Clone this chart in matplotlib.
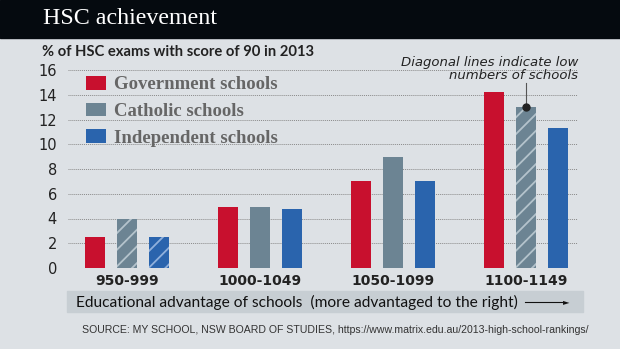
import numpy as np
import matplotlib.pyplot as plt
from matplotlib.patches import Rectangle, Patch

# data ------------------------------------------------------------
groups = ['950-999', '1000-1049', '1050-1099', '1100-1149']
series = ['Government schools', 'Catholic schools', 'Independent schools']
gov = [2.5, 4.9, 7.0, 14.2]
cath = [4.0, 4.95, 9.0, 13.0]
indep = [2.5, 4.8, 7.0, 11.3]
# low numbers of schools (hatched)
low_n = {'Catholic schools': [0, 3], 'Independent schools': [0]}
yticks = [0, 2, 4, 6, 8, 10, 12, 14, 16]
# ----------------------------------------------------------------

colors = ['#c8102e', '#6c8493', '#2a64ad']
hatch_cols = ['#e07080', '#b4c3cc', '#8fb0dc']
bg = '#dde1e5'
plt.rcParams['hatch.linewidth'] = 1.3

fig = plt.figure(figsize=(6.2, 3.49), dpi=100, facecolor=bg)
W, H = 620, 349
fig.patches.append(Rectangle((0, 1 - 38 / H), 1, 38 / H, transform=fig.transFigure,
                             color='#050a0f', zorder=0))
fig.text(43 / W, 1 - 19 / H, 'HSC achievement', color='white', fontsize=17.3,
         family='Liberation Serif', va='center')
fig.text(42 / W, 1 - 52 / H, '% of HSC exams with score of 90 in 2013', fontsize=10.6,
         fontweight='bold', color='#222222', va='center', family='Lato')

ax = fig.add_axes([68 / W, 1 - 268 / H, 510 / W, 198 / H])
ax.set_facecolor(bg)
x = np.arange(len(groups))
off = 0.24
w = 0.15
for i, (name, vals) in enumerate(zip(series, [gov, cath, indep])):
    bars = ax.bar(x + (i - 1) * off, vals, w, color=colors[i], zorder=3)
    for j in low_n.get(name, []):
        bars[j].set_hatch('//')
        bars[j].set_edgecolor(hatch_cols[i])
        bars[j].set_linewidth(0)

ax.set_xlim(-0.444, 3.39)
ax.set_ylim(0, 16)
ax.set_yticks(yticks)
ax.set_xticks(x)
ax.set_xticklabels(groups, fontsize=10, fontweight='bold', color='#222222')
ax.tick_params(length=0, pad=4)
ax.tick_params(axis='y', labelsize=10.5, labelcolor='#222222', pad=8)
for s in ax.spines.values():
    s.set_visible(False)
ax.grid(axis='y', linestyle=(0, (1, 1)), color='#8a8a8a', linewidth=0.7, zorder=0)

handles = [Patch(facecolor=c, label=n) for c, n in zip(colors, series)]
leg = ax.legend(handles=handles, loc='upper left', bbox_to_anchor=(0.01, 1.035), frameon=False,
                prop={'family': 'Liberation Serif', 'weight': 'bold', 'size': 13.5},
                handlelength=1.05, handleheight=0.72, labelspacing=0.5, handletextpad=0.42,
                borderpad=0.2)
for t in leg.get_texts():
    t.set_color('#666666')

# annotation
ax.text(3.39, 15.05, 'Diagonal lines indicate low\nnumbers of schools', ha='right', va='bottom',
        fontsize=9.5, style='italic', color='#222222', linespacing=1.0, clip_on=False)
ax.plot([3, 3], [cath[3], 14.95], color='#555555', lw=0.8, zorder=4, clip_on=False)
ax.plot([3], [cath[3]], 'o', color='#222222', ms=5, zorder=5)

# x-axis label box
fig.patches.append(Rectangle((67 / W, 1 - 312 / H), 516 / W, 21 / H, transform=fig.transFigure,
                             color='#c7ced3', zorder=0))
fig.text(76 / W, 1 - 302 / H, 'Educational advantage of schools  (more advantaged to the right)',
         fontsize=11.2, color='#111111', va='center', family='Lato')
fig.add_artist(plt.Line2D([525 / W, 562 / W], [1 - 302 / H] * 2, color='#111111', lw=0.8))
fig.text(569 / W, 1 - 302 / H, '\u25ba', fontsize=6, color='#111111', va='center', ha='right')

fig.text(82 / W, 1 - 330 / H,
         'SOURCE: MY SCHOOL, NSW BOARD OF STUDIES, https://www.matrix.edu.au/2013-high-school-rankings/',
         fontsize=7.6, color='#333333', va='center', family='Liberation Sans')

fig.savefig('out.png', dpi=100, facecolor=bg)
